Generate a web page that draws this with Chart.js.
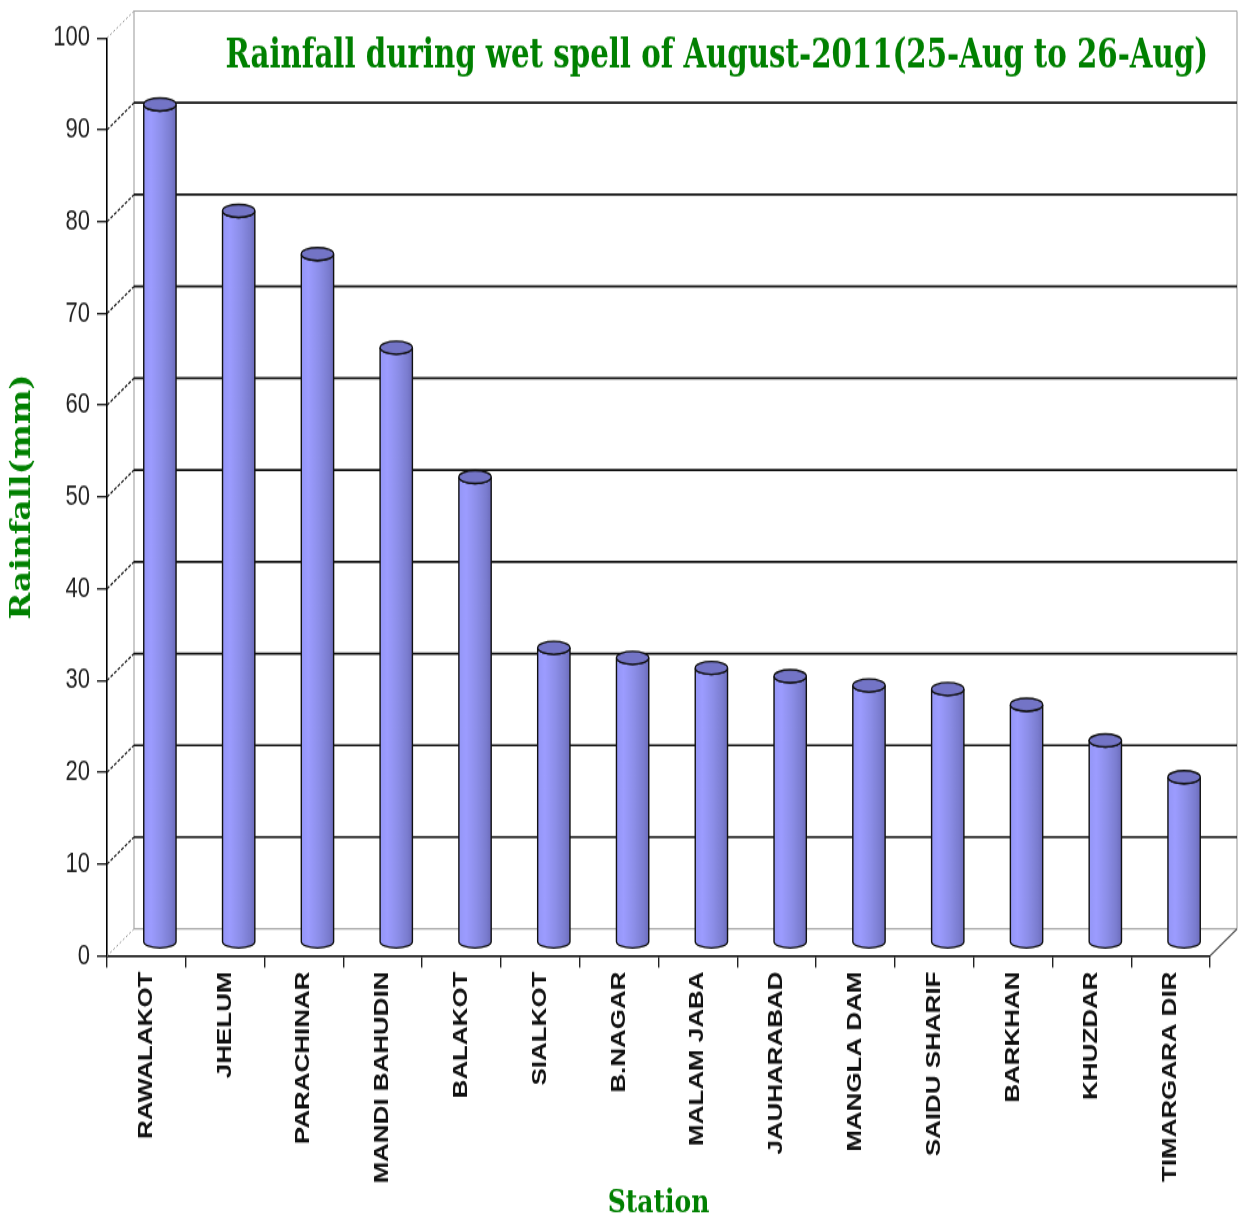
<!DOCTYPE html>
<html>
<head>
<meta charset="utf-8">
<title>Rainfall during wet spell of August-2011</title>
<script src="https://cdn.jsdelivr.net/npm/chart.js@4.4.1/dist/chart.umd.min.js"></script>
<style>
  html, body { margin: 0; padding: 0; background: #ffffff; overflow: hidden; }
  #chart { display: block; }
</style>
</head>
<body>
<!-- drawing surface is stretched vertically to the page height -->
<canvas id="chart" width="1245" height="940" style="width:1245px;height:1220px"></canvas>
<script>
// ---- data ----
const stations = [
  'RAWALAKOT', 'JHELUM', 'PARACHINAR', 'MANDI BAHUDIN', 'BALAKOT', 'SIALKOT',
  'B.NAGAR', 'MALAM JABA', 'JAUHARABAD', 'MANGLA DAM', 'SAIDU SHARIF',
  'BARKHAN', 'KHUZDAR', 'TIMARGARA DIR'
];
const rainfallMm = [91.3, 79.7, 75.0, 64.8, 50.7, 32.1, 31.0, 29.9, 29.0, 28.0, 27.6, 25.9, 22.0, 18.0];
const yTickValues = [0, 10, 20, 30, 40, 50, 60, 70, 80, 90, 100];
const chartTitle = 'Rainfall during wet spell of August-2011(25-Aug to 26-Aug)';
const xAxisTitle = 'Station';
const yAxisTitle = 'Rainfall(mm)';

// ---- pseudo-3D style ----
const DEPTH_X = 27;      // horizontal shift of the back wall
const DEPTH_Y = 20.8;    // vertical shift of the back wall
const CAP_RY = 5;        // half height of the cylinder end ellipses
const GREEN = '#008000';

function seg(ctx, x1, y1, x2, y2) {
  ctx.beginPath();
  ctx.moveTo(x1, y1);
  ctx.lineTo(x2, y2);
  ctx.stroke();
}

// back wall, its grid lines and the floor edges
const wallPlugin = {
  id: 'wall3d',
  beforeDatasetsDraw(chart) {
    const { ctx, chartArea: a, scales: { y } } = chart;
    const L = a.left, R = a.right;
    const yTopB = y.getPixelForValue(y.max) - DEPTH_Y;
    const yFloorB = y.getPixelForValue(y.min) - DEPTH_Y;
    ctx.save();
    ctx.lineCap = 'butt';

    // wall side edges
    ctx.strokeStyle = '#a8a8a8';
    ctx.lineWidth = 1.2;
    seg(ctx, L + DEPTH_X, yTopB, L + DEPTH_X, yFloorB);
    seg(ctx, R + DEPTH_X, yTopB, R + DEPTH_X, yFloorB);

    yTickValues.forEach(v => {
      const yf = y.getPixelForValue(v);
      const yb = yf - DEPTH_Y;
      const edge = (v === y.min || v === y.max);
      // connector from the front axis tick to the wall
      ctx.strokeStyle = edge ? '#9a9a9a' : '#222';
      ctx.lineWidth = edge ? 1 : 1.3;
      ctx.setLineDash(edge ? [2, 2] : [3, 1.5]);
      seg(ctx, L, yf, L + DEPTH_X, yb);
      ctx.setLineDash([]);
      // line across the back wall
      ctx.strokeStyle = edge ? '#a8a8a8' : '#111';
      ctx.lineWidth = edge ? 1.2 : 1.7;
      seg(ctx, L + DEPTH_X, yb, R + DEPTH_X, yb);
    });

    // right floor edge
    ctx.strokeStyle = '#555';
    ctx.lineWidth = 1.3;
    seg(ctx, R + DEPTH_X, yFloorB, R, yFloorB + DEPTH_Y);

    // chart title on the wall
    ctx.fillStyle = GREEN;
    ctx.font = 'bold 32.5px "DejaVu Serif Condensed", "DejaVu Serif", serif';
    ctx.textAlign = 'right';
    ctx.textBaseline = 'alphabetic';
    ctx.fillText(chartTitle, R - 2, y.getPixelForValue(y.max) + 23);
    ctx.restore();
  }
};

// cylinders built from the bar elements laid out by the chart
const cylinderPlugin = {
  id: 'cylinders',
  afterDatasetsDraw(chart) {
    const { ctx } = chart;
    const meta = chart.getDatasetMeta(0);
    ctx.save();
    meta.data.forEach(el => {
      const p = el.getProps(['x', 'y', 'base', 'width'], true);
      const cx = p.x + DEPTH_X / 2;
      const top = p.y - DEPTH_Y / 2;
      const base = p.base - DEPTH_Y / 2;
      const rx = p.width / 2;
      const left = cx - rx, right = cx + rx;

      const g = ctx.createLinearGradient(left, 0, right, 0);
      g.addColorStop(0, '#9496f6');
      g.addColorStop(0.22, '#9c9cff');
      g.addColorStop(0.55, '#8c8ee8');
      g.addColorStop(0.85, '#7a7ccf');
      g.addColorStop(1, '#6c6cbc');

      // side
      ctx.beginPath();
      ctx.moveTo(left, top);
      ctx.lineTo(left, base);
      ctx.ellipse(cx, base, rx, CAP_RY, 0, Math.PI, 0, true);
      ctx.lineTo(right, top);
      ctx.ellipse(cx, top, rx, CAP_RY, 0, 0, Math.PI, false);
      ctx.closePath();
      ctx.fillStyle = g;
      ctx.fill();
      ctx.strokeStyle = '#111';
      ctx.lineWidth = 1.4;
      ctx.stroke();

      // top cap
      ctx.beginPath();
      ctx.ellipse(cx, top, rx, CAP_RY, 0, 0, Math.PI * 2);
      ctx.fillStyle = '#7374c6';
      ctx.fill();
      ctx.stroke();
    });
    ctx.restore();
  }
};

new Chart(document.getElementById('chart'), {
  type: 'bar',
  data: {
    labels: stations,
    datasets: [{
      label: yAxisTitle,
      data: rainfallMm,
      backgroundColor: 'rgba(0,0,0,0)',
      borderWidth: 0,
      barPercentage: 0.41,
      categoryPercentage: 1
    }]
  },
  options: {
    responsive: false,
    animation: false,
    events: [],
    layout: { padding: { left: 0, top: 29.3, right: 35, bottom: 0 } },
    plugins: {
      legend: { display: false },
      title: { display: false },
      tooltip: { enabled: false }
    },
    scales: {
      x: {
        offset: true,
        afterFit(scale) { scale.height = 203.5; },
        grid: {
          display: true,
          offset: true,
          drawOnChartArea: false,
          drawTicks: true,
          tickLength: 9,
          color: '#222',
          lineWidth: 1.4
        },
        border: { display: true, color: '#000', width: 1.6 },
        ticks: {
          autoSkip: false,
          maxRotation: 90,
          minRotation: 90,
          padding: 3,
          color: '#111',
          font: { family: '"Liberation Sans", Arial, sans-serif', weight: 'bold', size: 20 }
        },
        title: {
          display: true,
          text: xAxisTitle,
          color: GREEN,
          font: { family: '"DejaVu Serif", serif', weight: 'bold', size: 25, lineHeight: 1 },
          padding: { top: 0, bottom: 0 }
        }
      },
      y: {
        min: 0,
        max: 100,
        afterFit(scale) { scale.width = 107; },
        afterBuildTicks(scale) { scale.ticks = yTickValues.map(v => ({ value: v })); },
        grid: {
          display: true,
          drawOnChartArea: false,
          drawTicks: true,
          tickLength: 10,
          color: '#222',
          lineWidth: 1.4
        },
        border: { display: true, color: '#000', width: 1.6 },
        ticks: {
          padding: 7,
          color: '#222',
          font: { family: '"Liberation Sans", Arial, sans-serif', size: 22 }
        },
        title: {
          display: true,
          text: yAxisTitle,
          color: GREEN,
          font: { family: '"DejaVu Serif Condensed", "DejaVu Serif", serif', weight: 'bold', size: 28, lineHeight: 1 },
          padding: { top: 9, bottom: 0 }
        }
      }
    }
  },
  plugins: [wallPlugin, cylinderPlugin]
});
</script>
</body>
</html>
